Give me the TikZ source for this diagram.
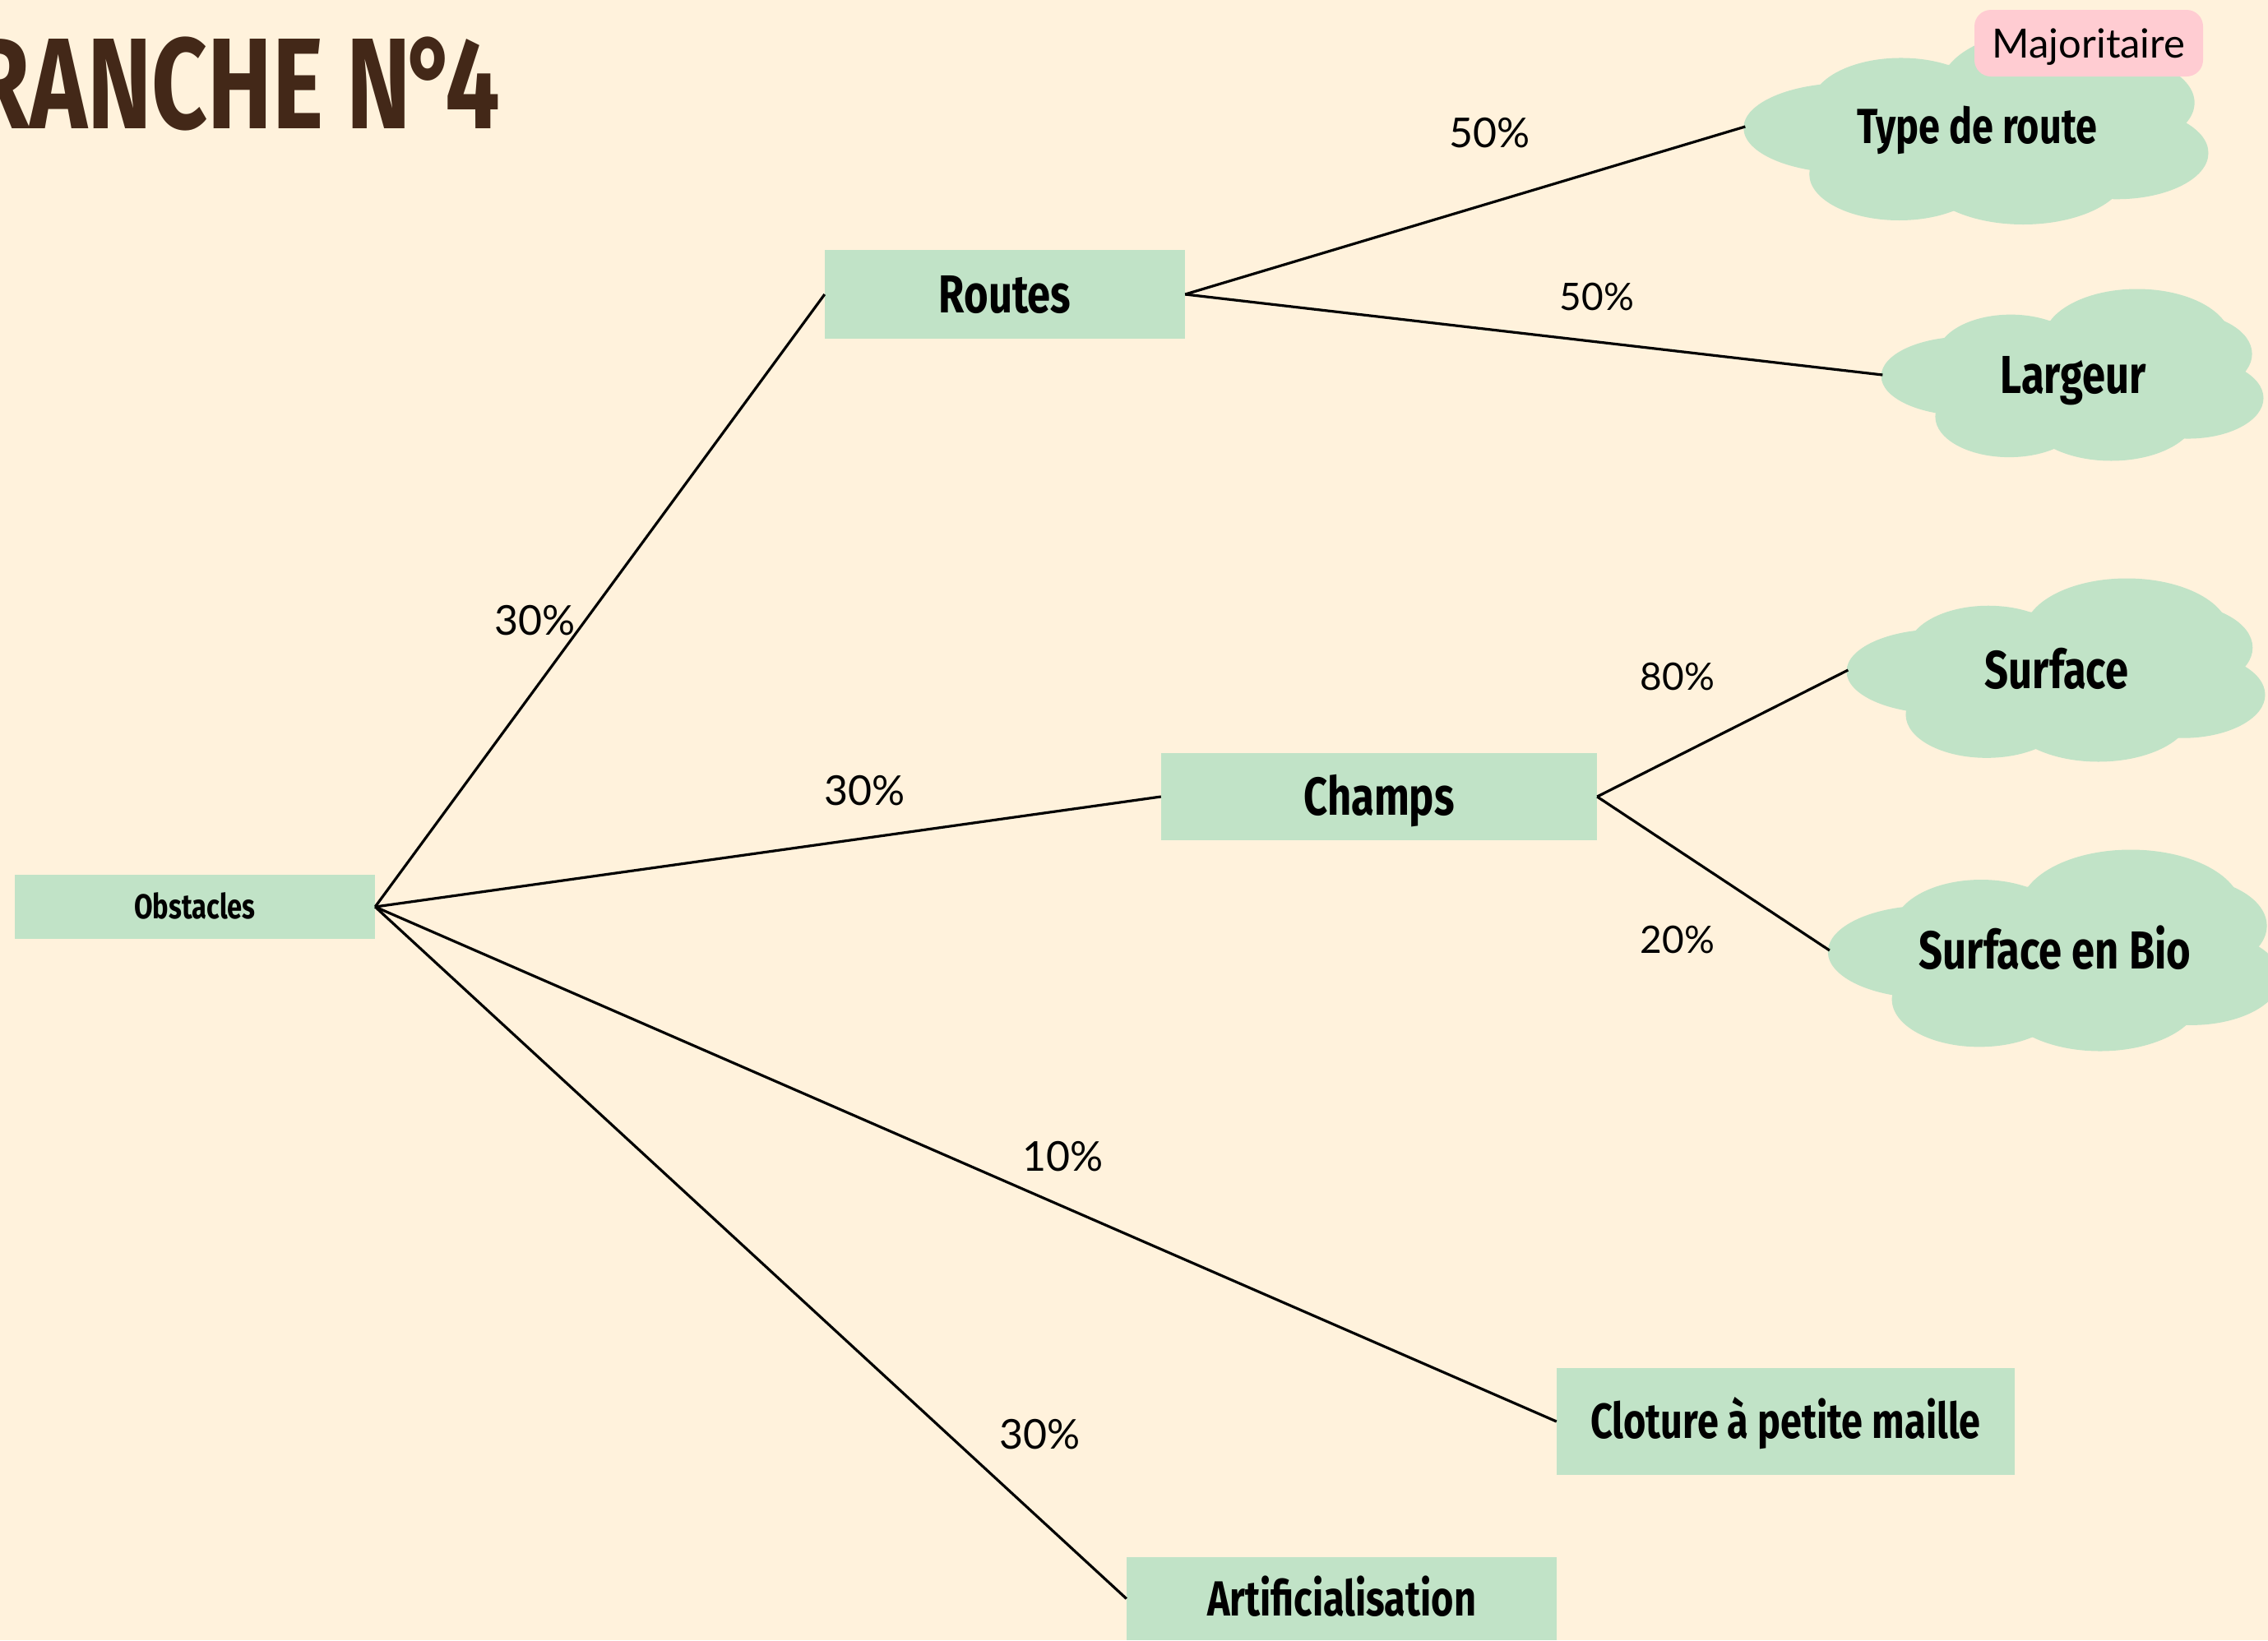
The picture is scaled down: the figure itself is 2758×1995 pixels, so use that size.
\documentclass[tikz,border=0pt]{standalone}
\usepackage{graphicx}
\usepackage{fontspec}
\newfontfamily\boxfont[FakeStretch=0.78]{Fira Sans}
\newfontfamily\ttlfont[FakeStretch=0.8]{Fira Sans}
\newfontfamily\pctfont{Lato}
\definecolor{bgcream}{HTML}{FFF2DC}
\definecolor{boxgreen}{HTML}{C1E3C7}
\definecolor{tagpink}{HTML}{FFCCD2}
\definecolor{ttlbrown}{HTML}{432818}
\newsavebox\ttlwbox
\newsavebox\ttlhbox
\tikzset{
  box/.style={fill=boxgreen, draw=none, inner sep=0pt, text=black},
  bigtxt/.style={font=\boxfont\bfseries\fontsize{65}{70}\selectfont, text height=45pt, text depth=0pt},
  midtxt/.style={font=\boxfont\bfseries\fontsize{60}{66}\selectfont, text height=41pt, text depth=0pt},
  smalltxt/.style={font=\boxfont\bfseries\fontsize{42}{46}\selectfont, text height=29pt, text depth=0pt},
  cloudnode/.style={rectangle, draw=none, fill=none, inner sep=0pt, text=black},
  blob/.style={fill=boxgreen},
  pct/.style={font=\pctfont\fontsize{50}{55}\selectfont, inner sep=0pt, text=black},
  pcts/.style={font=\pctfont\fontsize{46}{50}\selectfont, inner sep=0pt, text=black},
  conn/.style={draw=black, line width=3.2pt},
  tag/.style={fill=tagpink, rounded corners=20pt, inner sep=0pt, minimum width=278pt, minimum height=81pt, font=\pctfont\fontsize{49}{54}\selectfont, text height=35pt, text depth=0pt, text=black},
}
% cloud made of ellipses: centre x, centre y, width, height
\newcommand\cloudblob[4]{%
  \begin{scope}[shift={(#1,#2)}, xscale=#3, yscale=#4]
    \fill[blob] (0,0) ellipse [x radius=0.36, y radius=0.32];
    \fill[blob] (-0.28,0.007) ellipse [x radius=0.224, y radius=0.23];
    \fill[blob] (-0.164,-0.108) ellipse [x radius=0.194, y radius=0.243];
    \fill[blob] (0.168,-0.203) ellipse [x radius=0.246, y radius=0.297];
    \fill[blob] (0.28,-0.122) ellipse [x radius=0.19, y radius=0.243];
    \fill[blob] (0.302,0.135) ellipse [x radius=0.198, y radius=0.236];
    \fill[blob] (-0.168,0.243) ellipse [x radius=0.194, y radius=0.236];
    \fill[blob] (0.10,0.23) ellipse [x radius=0.224, y radius=0.27];
  \end{scope}}
\newcommand\ttltext[1]{\ttlfont\bfseries\fontsize{150}{160}\selectfont #1N\kern-0.04em°\kern-0.1em 4}
\begin{document}
\sbox\ttlwbox{\ttltext{ANCHE }}%
\sbox\ttlhbox{\ttlfont\bfseries\fontsize{150}{160}\selectfont H}%
\pgfmathsetmacro\ttlsx{571/\the\wd\ttlwbox}%
\pgfmathsetmacro\ttlsy{109/\the\ht\ttlhbox}%
\begin{tikzpicture}[x=1pt, y=-1pt]
\fill[bgcream] (0,0) rectangle (2758,1995);
\useasboundingbox (0,0) rectangle (2758,1995);

% title
\node[anchor=base east, inner sep=0pt, text=ttlbrown] (title) at (608,156)
  {\scalebox{\ttlsx}[\ttlsy]{\ttltext{BRANCHE }}};

% boxes
\node[box, smalltxt, minimum width=438pt, minimum height=78pt] (obs) at (237,1103) {Obstacles};
\node[box, bigtxt, minimum width=438pt, minimum height=108pt] (routes) at (1222,358) {Routes};
\node[box, bigtxt, minimum width=530pt, minimum height=106pt] (champs) at (1677,969) {Champs};
\node[box, midtxt, minimum width=557pt, minimum height=130pt] (cloture) at (2171.5,1729) {Cloture à petite maille};
\node[box, midtxt, minimum width=523pt, minimum height=101pt] (artif) at (1631.5,1944.5) {Artificialisation};

% clouds
\cloudblob{2404}{154}{563}{238}
\cloudblob{2521}{456}{463}{209}
\cloudblob{2501}{815}{507}{223}
\cloudblob{2499}{1156}{548}{245}
\node[cloudnode, midtxt, minimum width=563pt, minimum height=238pt] (typeroute) at (2404,154) {Type de route};
\node[cloudnode, bigtxt, minimum width=463pt, minimum height=209pt] (largeur) at (2521,456) {Largeur};
\node[cloudnode, bigtxt, minimum width=507pt, minimum height=223pt] (surface) at (2501,815) {Surface};
\node[cloudnode, bigtxt, minimum width=548pt, minimum height=245pt] (surfbio) at (2499,1156) {Surface en Bio};

% tag
\node[tag] (major) at (2540,52.5) {Majoritaire};

% connectors
\draw[conn] (obs.east) -- (routes.west);
\draw[conn] (obs.east) -- (champs.west);
\draw[conn] (obs.east) -- (cloture.west);
\draw[conn] (obs.east) -- (artif.west);
\draw[conn] (routes.east) -- (typeroute.west);
\draw[conn] (routes.east) -- (largeur.west);
\draw[conn] (champs.east) -- (surface.west);
\draw[conn] (champs.east) -- (surfbio.west);

% labels
\node[pct] (l1) at (651,755) {30\%};
\node[pct] (l2) at (1052,962) {30\%};
\node[pct] (l3) at (1293,1407) {10\%};
\node[pct] (l4) at (1265,1745) {30\%};
\node[pct] (l5) at (1812,162) {50\%};
\node[pcts] (l6) at (1942,361) {50\%};
\node[pcts] (l7) at (2040,823) {80\%};
\node[pcts] (l8) at (2040,1143) {20\%};
\end{tikzpicture}
\end{document}
